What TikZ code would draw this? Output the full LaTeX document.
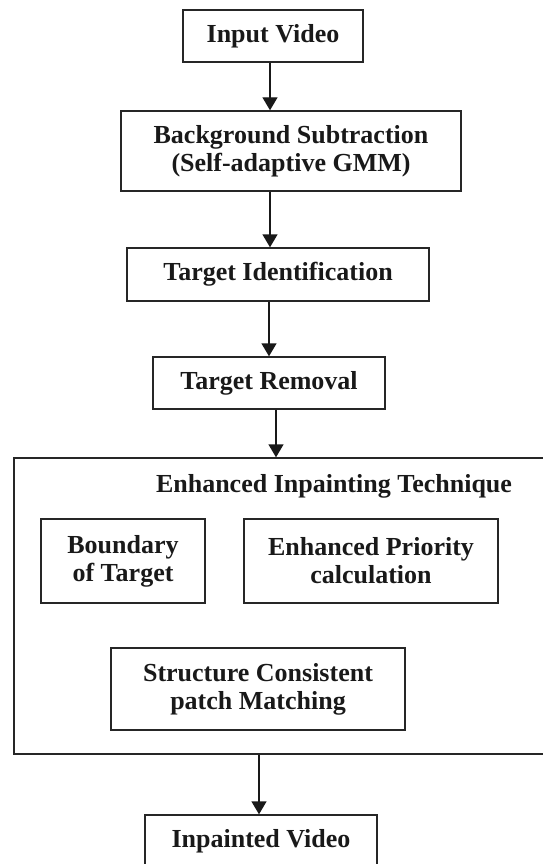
\documentclass[tikz,border=0pt]{standalone}
\usepackage{fontspec}
\setmainfont{Liberation Serif}
\usetikzlibrary{arrows.meta}

\begin{document}
\begin{tikzpicture}[
    x=1pt, y=-1pt,
    blk/.style={draw=black!85, line width=1.4pt, align=center,
                text=black!90, inner sep=0pt,
                font=\fontsize{26}{28}\selectfont\bfseries},
    arr/.style={black!90, line width=1.4pt,
                -{Triangle[width=15pt,length=13pt]}},
    ttl/.style={text=black!90, font=\fontsize{26}{28}\selectfont\bfseries}
]
\useasboundingbox (0,0) rectangle (543,864);

% ---------- main chain ----------
\node[blk, minimum width=180pt, minimum height=52pt] (inp) at (273,36)
      {Input Video};
\node[blk, minimum width=340pt, minimum height=80pt] (bgs) at (291,151)
      {Background Subtraction\\(Self-adaptive GMM)};
\node[blk, minimum width=302pt, minimum height=53pt] (tid) at (278,274.5)
      {Target Identification};
\node[blk, minimum width=232pt, minimum height=52pt] (trm) at (269,383)
      {Target Removal};

% ---------- inpainting block ----------
\node[blk, minimum width=534pt, minimum height=296pt] (eit) at (281,606) {};
\node[ttl] (eitl) at (334,486) {Enhanced Inpainting Technique};
\node[blk, minimum width=164pt, minimum height=84pt] (bnd) at (123,561)
      {Boundary\\of Target};
\node[blk, minimum width=254pt, minimum height=84pt] (epc) at (371,561)
      {Enhanced Priority\\calculation};
\node[blk, minimum width=294pt, minimum height=82pt] (scm) at (258,689)
      {Structure Consistent\\patch Matching};

\node[blk, minimum width=232pt, minimum height=52pt] (out) at (261,841)
      {Inpainted Video};

% ---------- arrows ----------
\draw[arr] (inp.south -| 270,0) -- (bgs.north -| 270,0);
\draw[arr] (bgs.south -| 270,0) -- (tid.north -| 270,0);
\draw[arr] (tid.south -| trm) -- (trm.north);
\draw[arr] ([xshift=7pt]trm.south) -- ([xshift=7pt]trm.south |- eit.north);
\draw[arr] (eit.south -| 259,0) -- (out.north -| 259,0);

\end{tikzpicture}
\end{document}
